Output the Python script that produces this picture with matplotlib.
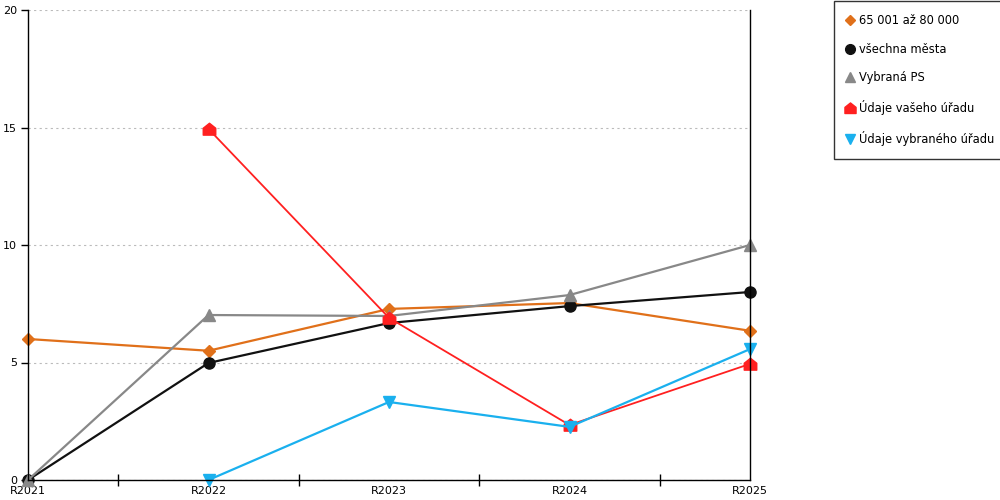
import numpy as np
import matplotlib
matplotlib.use("Agg")
import matplotlib.pyplot as plt
from matplotlib.path import Path

years = ["R2021", "R2022", "R2023", "R2024", "R2025"]
labels = ["65 001 až 80 000", "všechna města", "Vybraná PS",
          "Údaje vašeho úřadu", "Údaje vybraného úřadu"]

v_size = [6.0, 5.5, 7.28, 7.53, 6.35]
v_all = [0.0, 4.98, 6.68, 7.4, 8.0]
v_ps = [0.0, 7.02, 6.98, 7.87, 10.0]
v_own = [np.nan, 14.94, 6.9, 2.34, 4.94]
v_sel = [np.nan, 0.0, 3.32, 2.26, 5.57]

# house-shaped marker for "your office"
house = Path([(-1, -0.9), (1, -0.9), (1, 0.2), (0, 1), (-1, 0.2), (-1, -0.9)],
             [Path.MOVETO, Path.LINETO, Path.LINETO, Path.LINETO, Path.LINETO, Path.CLOSEPOLY])

styles = [
    dict(color="#e0701a", marker="D", ms=6, lw=1.6),
    dict(color="#111111", marker="o", ms=8, lw=1.6),
    dict(color="#888888", marker="^", ms=8, lw=1.6),
    dict(color="#ff2020", marker=house, ms=9, lw=1.3),
    dict(color="#1ab0ee", marker="v", ms=8, lw=1.6),
]
series = [v_size, v_all, v_ps, v_own, v_sel]

plt.rcParams["font.family"] = ["DejaVu Sans"]
fig = plt.figure(figsize=(10, 5), dpi=100)
ax = fig.add_axes([0.028, 0.04, 0.722, 0.94])

x = np.arange(len(years))
handles = []
for vals, st, lab in zip(series, styles, labels):
    ax.plot(x, vals, color=st["color"], lw=st["lw"], marker=st["marker"],
            ms=st["ms"], mec=st["color"], mfc=st["color"], clip_on=False)
    h, = ax.plot([], [], ls="none", marker=st["marker"], ms=st["ms"] - 1,
                 color=st["color"], label=lab)
    handles.append(h)

ax.set_xlim(0, 4)
ax.set_ylim(0, 20)
ax.set_yticks([0, 5, 10, 15, 20])
ax.tick_params(axis="y", labelsize=8, length=5, width=1, pad=3)
ax.set_xticks(x)
ax.set_xticklabels(years)
ax.tick_params(axis="x", which="major", length=0, labelsize=8, pad=4)
ax.set_xticks([0.5, 1.5, 2.5, 3.5], minor=True)
ax.tick_params(axis="x", which="minor", direction="inout", length=9, width=1)
ax.yaxis.grid(True, ls=(0, (2, 3)), color="#bbbbbb", lw=0.8)
ax.spines["top"].set_visible(False)
for s in ("left", "right", "bottom"):
    ax.spines[s].set_color("black")
    ax.spines[s].set_linewidth(1)

leg = fig.legend(handles=handles, loc="upper left", bbox_to_anchor=(0.834, 0.998),
                 frameon=True, fancybox=False, edgecolor="black", fontsize=8.3,
                 handlelength=0.6, handletextpad=0.5, labelspacing=1.38,
                 borderpad=1.1, borderaxespad=0)
leg.get_frame().set_linewidth(1)

fig.savefig("out.png", dpi=100)
